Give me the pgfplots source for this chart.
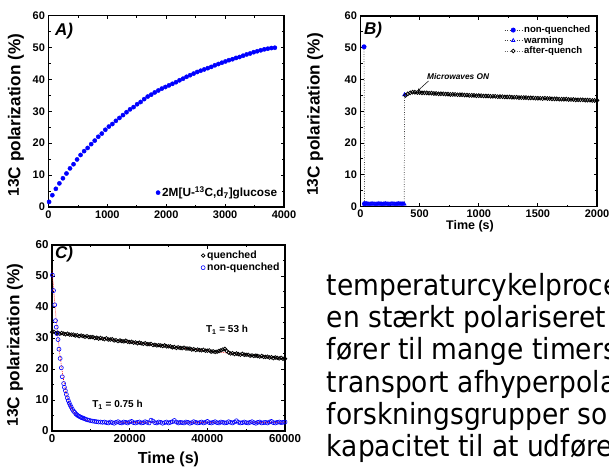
\documentclass[border=0pt]{standalone}
\usepackage{fontspec}
\setmainfont{Liberation Sans}
\newfontfamily\dejavu{DejaVu Sans}
\usepackage{pgfplots}
\pgfplotsset{compat=1.18}
\usetikzlibrary{arrows.meta}
\pgfplotsset{
  panel/.style={
    scale only axis, anchor=south west,
    ymin=0, ymax=60, ytick={0,10,20,30,40,50,60},
    minor x tick num=1, minor y tick num=1,
    axis line style={line width=1.1pt},
    every tick/.append style={black, line width=0.8pt},
    major tick length=3.5pt, minor tick length=2pt,
    tick label style={font=\bfseries\fontsize{11}{12}\selectfont},
    /pgf/number format/assume math mode=true,
    /pgf/number format/1000 sep={},
    scaled x ticks=false,
    label style={font=\bfseries\fontsize{17.2}{18}\selectfont},
    legend cell align=left,
  },
}
\newcommand{\thirteenC}{{\fontsize{15.5}{15.5}\selectfont\raisebox{1.6pt}{13}}C polarization (\%)}
\begin{document}
\begin{tikzpicture}
% ---------------- Panel A
\begin{axis}[panel, at={(48.5pt,262pt)}, anchor=south west, width=235.5pt, height=191.5pt,
  xmin=0, xmax=4000, xtick={0,1000,2000,3000,4000},
  ylabel={\thirteenC},
  ylabel style={at={(axis description cs:-0.138,0.48)}, anchor=center},
  legend style={at={(0.985,0.075)}, anchor=east, draw=none, fill=none,
    font=\bfseries\fontsize{11.8}{13}\selectfont, inner sep=1pt},
  legend image code/.code={\draw[#1] plot coordinates {(0pt,0pt)};},
]
\addplot[only marks, mark=*, mark size=2.1pt, blue, mark options={draw=blue, fill=blue}] coordinates {
(10,1.6)(65,3.7)(125,5.7)(185,7.4)(245,9.0)(305,10.5)(365,12.1)(425,13.4)(485,14.9)(545,16.3)
(605,17.5)(665,18.5)(725,19.7)(785,20.8)(845,22.0)(905,23.0)(965,24.2)(1025,25.2)(1085,26.0)(1145,27.0)
(1205,27.9)(1265,28.8)(1325,29.7)(1385,30.6)(1445,31.3)(1505,32.2)(1565,32.9)(1625,33.8)(1685,34.6)(1745,35.2)
(1805,35.9)(1865,36.5)(1925,37.1)(1985,37.6)(2045,38.1)(2105,38.6)(2165,39.1)(2225,39.7)(2285,40.2)(2345,40.8)
(2405,41.3)(2465,41.8)(2525,42.3)(2585,42.7)(2645,43.1)(2705,43.5)(2765,43.9)(2825,44.4)(2885,44.8)(2945,45.2)
(3005,45.6)(3065,46.0)(3125,46.3)(3185,46.7)(3245,47.0)(3305,47.4)(3365,47.8)(3425,48.1)(3485,48.5)(3545,48.8)
(3605,49.1)(3665,49.4)(3725,49.6)(3785,49.8)(3845,49.9)
};
\addlegendentry{2M[U-\textsuperscript{13}C,d\textsubscript{7}]glucose}
\end{axis}
% ---------------- Panel B
\begin{axis}[panel, at={(360.5pt,262.5pt)}, anchor=south west, width=236.5pt, height=190.5pt,
  xmin=0, xmax=2000, xtick={0,500,1000,1500,2000},
  xlabel={Time (s)}, ylabel={\thirteenC},
  xlabel style={at={(axis description cs:0.463,-0.102)}, anchor=center, font=\bfseries\fontsize{12.5}{14}\selectfont},
  ylabel style={at={(axis description cs:-0.192,0.483)}, anchor=center},
  legend style={at={(0.985,0.965)}, anchor=north east, draw=none, fill=none,
    font=\bfseries\fontsize{9.6}{10}\selectfont, inner sep=1pt, row sep=-2pt},
]
\addplot[black!75, line width=0.7pt, dash pattern=on 0.8pt off 1.6pt, mark=*, mark size=2.1pt, mark options={solid, draw=blue, fill=blue}] coordinates {(30,50.3)(34,0.9)};
\addlegendentry{non-quenched}
\addplot[black!75, line width=0.7pt, dash pattern=on 0.8pt off 1.6pt, mark=triangle, mark size=2pt, mark options={solid, draw=blue}] coordinates {
(34,0.8)(42,0.8)(50,0.9)(58,0.8)(66,0.8)(74,0.7)(82,0.8)(90,0.8)(98,0.9)(106,0.8)
(114,0.8)(122,0.8)(130,0.7)(138,0.8)(146,0.8)(154,0.9)(162,0.8)(170,0.8)(178,0.8)(186,0.7)
(194,0.8)(202,0.8)(210,0.9)(218,0.8)(226,0.8)(234,0.8)(242,0.7)(250,0.8)(258,0.8)(266,0.9)
(274,0.8)(282,0.8)(290,0.8)(298,0.7)(306,0.8)(314,0.8)(322,0.9)(330,0.8)(338,0.8)(346,0.8)
(354,0.8)(362,0.8)(370,0.8)(372,35.2)
};
\addlegendentry{warming}
\addplot[black!60, line width=0.6pt, dash pattern=on 0.8pt off 1.6pt, mark=o, mark size=1.9pt, mark options={solid, draw=black, line width=0.8pt}] coordinates {
(380,35.0)(400,35.5)(420,35.8)(440,36.0)(460,36.0)(480,35.9)(500,35.9)(520,35.8)(540,35.8)(560,35.8)
(580,35.7)(600,35.7)(620,35.6)(640,35.6)(660,35.5)(680,35.5)(700,35.5)(720,35.4)(740,35.4)(760,35.3)
(780,35.3)(800,35.3)(820,35.2)(840,35.2)(860,35.2)(880,35.1)(900,35.1)(920,35.0)(940,35.0)(960,35.0)
(980,34.9)(1000,34.9)(1020,34.9)(1040,34.8)(1060,34.8)(1080,34.8)(1100,34.7)(1120,34.7)(1140,34.7)(1160,34.6)
(1180,34.6)(1200,34.6)(1220,34.5)(1240,34.5)(1260,34.5)(1280,34.4)(1300,34.4)(1320,34.4)(1340,34.3)(1360,34.3)
(1380,34.3)(1400,34.3)(1420,34.2)(1440,34.2)(1460,34.2)(1480,34.1)(1500,34.1)(1520,34.1)(1540,34.0)(1560,34.1)
(1580,34.0)(1600,34.0)(1620,33.9)(1640,33.9)(1660,33.9)(1680,33.8)(1700,33.8)(1720,33.8)(1740,33.8)(1760,33.7)
(1780,33.7)(1800,33.7)(1820,33.6)(1840,33.6)(1860,33.6)(1880,33.6)(1900,33.5)(1920,33.5)(1940,33.5)(1960,33.4)
(1980,33.4)(2000,33.4)
};
\addlegendentry{after-quench}
\end{axis}
% ---------------- Panel C
\begin{axis}[panel, at={(52pt,38pt)}, anchor=south west, width=233pt, height=186pt,
  xmin=0, xmax=60000, xtick={0,20000,40000,60000},
  tick label style={font=\bfseries\fontsize{11.5}{12}\selectfont},
  xlabel={Time (s)}, ylabel={\thirteenC},
  xlabel style={at={(axis description cs:0.5,-0.15)}, anchor=center, font=\bfseries\fontsize{16}{18}\selectfont},
  ylabel style={at={(axis description cs:-0.159,0.462)}, anchor=center},
  legend style={at={(0.99,0.985)}, anchor=north east, draw=none, fill=none,
    font=\bfseries\fontsize{10.5}{12}\selectfont, inner sep=1pt, row sep=-1pt},
]
\addplot[only marks, mark=o, mark size=1.8pt, mark options={draw=black, line width=0.75pt}] coordinates {
(0,31.9)(500,32.0)(1000,31.6)(1500,31.7)(2000,31.4)(2500,31.6)(3000,31.4)(3500,31.2)(4000,31.4)(4500,31.1)
(5000,31.1)(5500,31.1)(6000,30.8)(6500,30.9)(7000,30.6)(7500,30.8)(8000,30.6)(8500,30.4)(9000,30.6)(9500,30.3)
(10000,30.3)(10500,30.3)(11000,30.0)(11500,30.1)(12000,29.8)(12500,30.0)(13000,29.8)(13500,29.6)(14000,29.9)(14500,29.5)
(15000,29.5)(15500,29.6)(16000,29.2)(16500,29.3)(17000,29.0)(17500,29.2)(18000,29.0)(18500,28.9)(19000,29.1)(19500,28.8)
(20000,28.7)(20500,28.8)(21000,28.5)(21500,28.6)(22000,28.3)(22500,28.5)(23000,28.3)(23500,28.1)(24000,28.3)(24500,28.0)
(25000,28.0)(25500,28.1)(26000,27.7)(26500,27.8)(27000,27.6)(27500,27.7)(28000,27.6)(28500,27.4)(29000,27.6)(29500,27.3)
(30000,27.3)(30500,27.3)(31000,27.0)(31500,27.1)(32000,26.8)(32500,27.0)(33000,26.8)(33500,26.7)(34000,26.9)(34500,26.6)
(35000,26.6)(35500,26.6)(36000,26.3)(36500,26.4)(37000,26.1)(37500,26.3)(38000,26.1)(38500,26.0)(39000,26.2)(39500,25.9)
(40000,25.9)(40500,26.0)(41000,25.6)(41500,25.7)(42000,25.5)(42500,25.6)(43000,25.8)(43500,26.0)(44000,26.3)(44500,26.5)
(45000,25.8)(45500,25.3)(46000,25.0)(46500,25.1)(47000,24.8)(47500,25.0)(48000,24.8)(48500,24.6)(49000,24.9)(49500,24.6)
(50000,24.6)(50500,24.6)(51000,24.3)(51500,24.4)(52000,24.2)(52500,24.3)(53000,24.2)(53500,24.0)(54000,24.2)(54500,23.9)
(55000,23.9)(55500,24.0)(56000,23.7)(56500,23.8)(57000,23.5)(57500,23.7)(58000,23.6)(58500,23.4)(59000,23.6)(59500,23.3)
(60000,23.3)
};
\addlegendentry{quenched}
\addplot[only marks, mark=o, mark size=2pt, mark options={draw=blue, line width=0.6pt}] coordinates {
(100,50.3)(400,45.3)(700,40.7)(900,35.6)(1100,33.5)(1300,31.4)(1550,29.5)(1800,26.4)(2100,23.4)(2400,20.4)
(2650,17.5)(3000,15.3)(3200,14.1)(3450,13.0)(3700,11.8)(3950,10.7)(4200,9.8)(4450,9.0)(4700,8.3)(4950,7.7)
(5250,7.0)(5550,6.4)(5850,6.0)(6150,5.5)(6450,5.2)(6750,4.9)(7050,4.7)(7350,4.5)(7650,4.3)(7950,4.2)
(8300,4.0)(8700,3.8)(9100,3.6)(9500,3.5)(10000,3.3)(10500,3.2)(11000,3.1)(11500,3.0)(12000,2.9)(12500,2.9)
(13000,2.8)(13500,2.9)(14000,2.7)
(14500,2.6)(15000,2.9)(15500,2.7)(16000,2.5)(16500,2.8)(17000,3.0)(17500,2.7)(18000,2.6)(18500,2.9)(19000,2.8)
(19500,2.6)(20000,2.9)(20500,3.1)(21000,2.7)(21500,2.6)(22000,2.8)(22500,2.9)(23000,2.6)(23500,2.7)(24000,3.0)
(24500,2.8)(25000,2.6)(25500,3.5)(26000,3.2)(26500,2.7)(27000,2.6)(27500,2.9)(28000,2.8)(28500,2.5)(29000,2.7)
(29500,2.9)(30000,2.6)(30500,2.8)(31000,3.0)(31500,3.4)(32000,2.9)(32500,2.6)(33000,2.8)(33500,2.7)(34000,2.6)
(34500,2.9)(35000,2.8)(35500,2.5)(36000,2.7)(36500,3.0)(37000,2.8)(37500,2.6)(38000,2.7)(38500,2.9)(39000,2.6)
(39500,2.8)(40000,3.1)(40500,2.7)(41000,2.6)(41500,2.8)(42000,3.0)(42500,2.7)(43000,2.6)(43500,2.9)(44000,2.8)
(44500,2.6)(45000,2.7)(45500,3.0)(46000,2.8)(46500,2.6)(47000,2.9)(47500,3.3)(48000,2.8)(48500,2.6)(49000,2.7)
(49500,2.9)(50000,2.7)(50500,2.6)(51000,2.8)(51500,3.0)(52000,2.7)(52500,2.5)(53000,2.8)(53500,2.9)(54000,2.6)
(54500,2.7)(55000,2.8)(55500,2.6)(56000,2.9)(56500,3.1)(57000,2.7)(57500,2.6)(58000,2.8)(58500,2.9)(59000,2.7)
(59500,2.8)(60000,2.9)
};
\addlegendentry{non-quenched}
\addplot[forget plot, red, line width=0.7pt, dash pattern=on 0.8pt off 1.2pt] coordinates {
(0,31.9)(10000,30.27)(20000,28.73)(30000,27.26)(40000,25.87)(50000,24.55)(60000,23.31)};
\addplot[forget plot, red, line width=0.7pt, dash pattern=on 0.8pt off 1.2pt] coordinates {
(0,52)(300,47.5)(600,43)(1000,37)(1500,30.5)(2000,25)(2500,20.3)(3000,16.3)(3500,13)(4000,10.5)
(4500,8.6)(5000,7.2)(6000,5.4)(7000,4.4)(8000,3.8)(9000,3.4)(10000,3.1)(12000,2.9)(15000,2.8)(60000,2.8)};
\end{axis}
% ---------------- annotations
\begin{scope}[x=1pt,y=1pt]
\node[font=\bfseries\itshape\fontsize{17}{17}\selectfont] at (64,437.5) {A)};
\node[font=\bfseries\itshape\fontsize{17}{17}\selectfont] at (373,439) {B)};
\node[font=\bfseries\itshape\fontsize{17}{17}\selectfont] at (64,214.5) {C)};
\node[font=\bfseries\itshape\fontsize{8.3}{9}\selectfont, anchor=west, inner sep=0pt] at (427,392) {Microwaves ON};
\draw[-{Stealth[length=3pt,width=2.5pt]}, line width=0.5pt] (428.5,388) -- (417.5,378);
\node[font=\bfseries\fontsize{10}{11}\selectfont] at (227,139) {T\textsubscript{1} = 53 h};
\node[font=\bfseries\fontsize{10}{11}\selectfont] at (117.5,64) {T\textsubscript{1} = 0.75 h};
% ---------------- Danish text
\begin{scope}[every node/.style={anchor=base west, inner sep=0pt, font=\dejavu\fontsize{26.5}{26.5}\selectfont, yscale=1.1}]
\node at (326.7,174) {temperaturcykelproce};
\node at (326.7,141.7) {en stærkt polariseret};
\node at (326.7,109.3) {fører til mange timers};
\node at (326.7,77) {transport afhyperpola};
\node at (326.7,44.6) {forskningsgrupper so};
\node at (326.7,12.3) {kapacitet til at udføre};
\end{scope}
\pgfresetboundingbox
\useasboundingbox (0,0) rectangle (609,469);
\end{scope}
\end{tikzpicture}
\end{document}
